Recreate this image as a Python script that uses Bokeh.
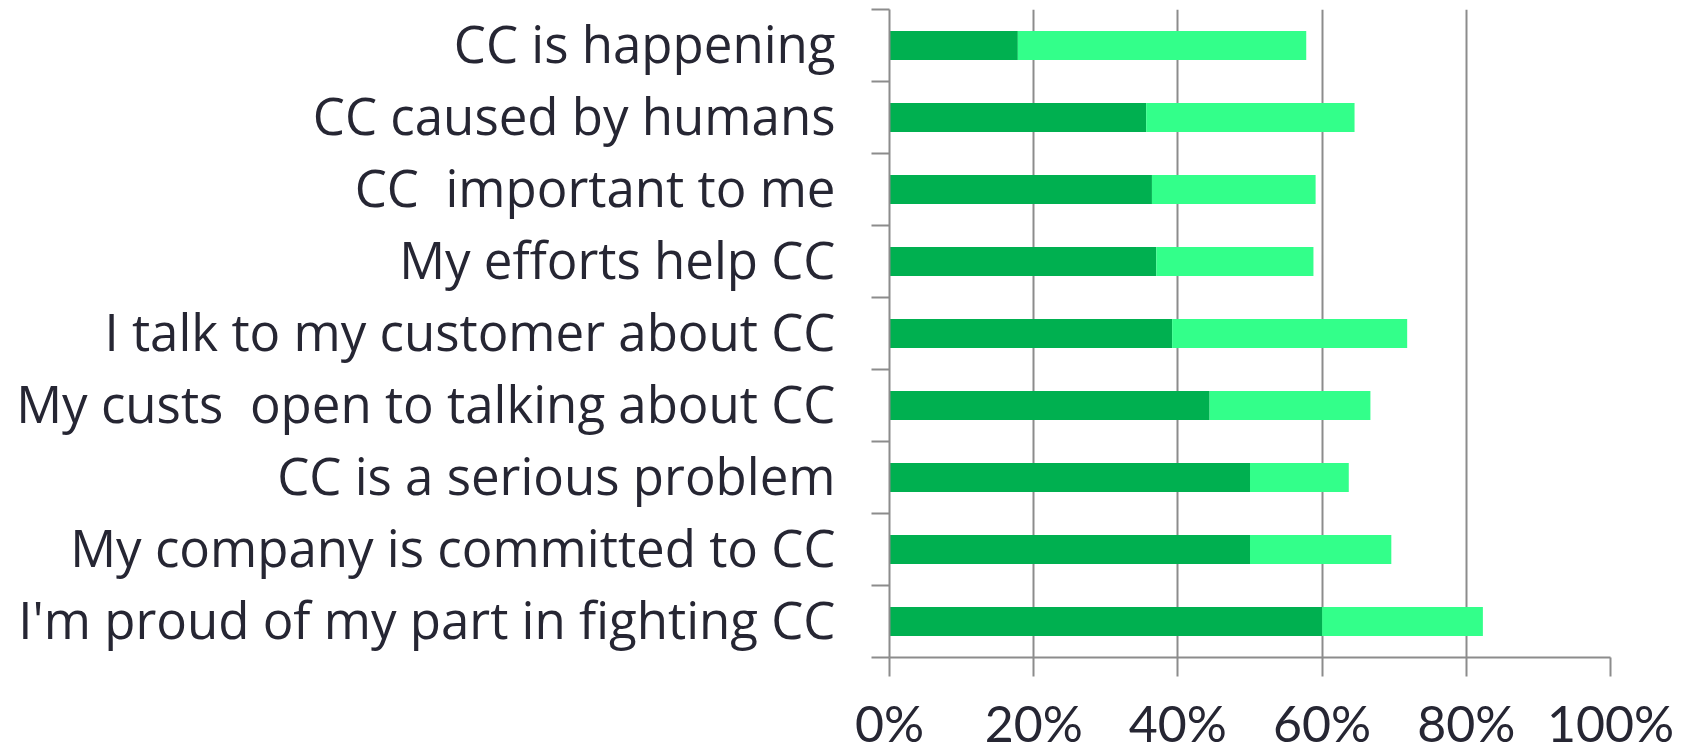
from bokeh.plotting import figure
from bokeh.models import Range1d, FixedTicker, ColumnDataSource
from bokeh.embed import file_html
from bokeh.resources import INLINE

categories = [
    "CC is happening",
    "CC caused by humans",
    "CC\u00a0 important to me",
    "My efforts help CC",
    "I talk to my customer about CC",
    "My custs\u00a0 open to talking about CC",
    "CC is a serious problem",
    "My company is committed to CC",
    "I'm proud of my part in fighting CC",
]
strongly_agree = [0.178, 0.356, 0.364, 0.370, 0.392, 0.444, 0.500, 0.500, 0.600]
agree = [0.400, 0.289, 0.227, 0.218, 0.326, 0.223, 0.137, 0.196, 0.223]
x_ticks = [0.0, 0.2, 0.4, 0.6, 0.8, 1.0]
x_tick_labels = ["0%", "20%", "40%", "60%", "80%", "100%"]

n = len(categories)
ypos = [n - 0.5 - i for i in range(n)]
label_pos = [y + 0.04 for y in ypos]  # small optical lift of the category labels
totals = [a + b for a, b in zip(strongly_agree, agree)]

src = ColumnDataSource(dict(y=ypos, dark=strongly_agree, total=totals))

TXT = "#262633"
GRID = "#8c8c8c"

p = figure(width=1694, height=754, frame_width=721, frame_height=648,
           output_backend="svg", toolbar_location=None,
           x_range=Range1d(0, 1.0), y_range=Range1d(0, n),
           min_border_left=889, min_border_right=84, min_border_top=9,
           min_border_bottom=97)
p.outline_line_color = None

p.hbar(y="y", left=0, right="dark", height=0.4, source=src,
       fill_color="#00b050", line_color=None)
p.hbar(y="y", left="dark", right="total", height=0.4, source=src,
       fill_color="#33ff8a", line_color=None)

# x axis
xa = p.xaxis[0]
xa.ticker = FixedTicker(ticks=x_ticks)
xa.major_label_overrides = {t: l for t, l in zip(x_ticks, x_tick_labels)}
xa.axis_line_color = GRID
xa.axis_line_width = 2
xa.major_tick_line_color = GRID
xa.major_tick_line_width = 2
xa.major_tick_out = 19
xa.major_tick_in = 0
xa.minor_tick_line_color = None
xa.major_label_text_font = "Lato"
xa.major_label_text_font_size = "50px"
xa.major_label_text_color = TXT
xa.major_label_standoff = 16

# y axis
ya = p.yaxis[0]
ya.ticker = FixedTicker(ticks=label_pos, minor_ticks=list(range(n + 1)))
ya.major_label_overrides = {y: c for y, c in zip(label_pos, categories)}
ya.axis_line_color = GRID
ya.axis_line_width = 2
ya.major_tick_line_color = None
ya.major_tick_out = 0
ya.major_tick_in = 0
ya.minor_tick_line_color = GRID
ya.minor_tick_line_width = 2
ya.minor_tick_out = 18
ya.minor_tick_in = 0
ya.major_label_text_font = "Open Sans"
ya.major_label_text_font_size = "51px"
ya.major_label_text_color = TXT
ya.major_label_standoff = 36

p.xgrid.grid_line_color = GRID
p.xgrid.grid_line_width = 2
p.xgrid.ticker = FixedTicker(ticks=x_ticks)
p.ygrid.grid_line_color = None

open("out.html", "w").write(file_html(p, INLINE))
